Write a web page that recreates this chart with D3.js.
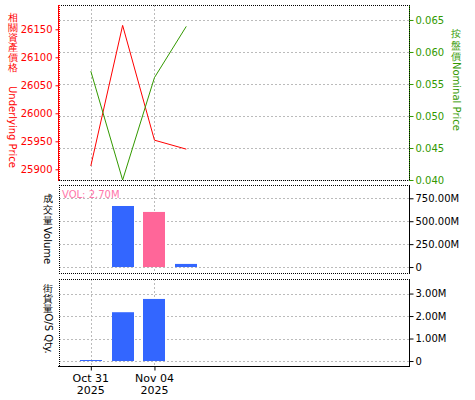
<!DOCTYPE html>
<html><head><meta charset="utf-8">
<script src="https://cdn.jsdelivr.net/npm/d3@7"></script>
<style>
html,body{margin:0;padding:0;background:#fff;}
text{font-family:"DejaVu Sans",sans-serif;}
</style></head>
<body><svg id="c" width="475" height="400"></svg>
<script>
// ---- data ----
const dates = ["2025-10-31","2025-11-03","2025-11-04","2025-11-05"];
const tickIdx = [0, 2];
const tickLabels = [["Oct 31","2025"],["Nov 04","2025"]];
const underlying = [25906, 26157, 25952, 25936];
const nominal = [0.057, 0.040, 0.056, 0.064];
const volume = [0, 666e6, 601e6, 34e6];
const volColors = ["#3366ff","#3366ff","#ff6699","#3366ff"];
const osQty = [0.045e6, 2.17e6, 2.76e6, 0];
const leftTicks = [25900, 25950, 26000, 26050, 26100, 26150];
const rightTicks = [0.040, 0.045, 0.050, 0.055, 0.060, 0.065];
const volTicks = [0, 250e6, 500e6, 750e6];
const osTicks = [0, 1e6, 2e6, 3e6];
const volLabel = "VOL: 2.70M";

const RED = "#ff0000", GREEN = "#339900", GRID = "#bbbbbb";
const svg = d3.select("#c");
const L = 59, R = 409;
const x = d3.scaleLinear().domain([-1, 10]).range([L, R]);
const P1 = {t:5, b:180}, P2 = {t:185, b:273}, P3 = {t:279, b:366};
const yL = d3.scaleLinear().domain([25880.9, 26193.4]).range([P1.b, P1.t]);
const yR = d3.scaleLinear().domain([0.040, 0.06734]).range([P1.b, P1.t]);
const yV = d3.scaleLinear().domain([-65e6, 895e6]).range([P2.b, P2.t]);
const yO = d3.scaleLinear().domain([-0.2215e6, 3.647e6]).range([P3.b, P3.t]);

function hline(y, x1, x2, color, dash, w) {
  svg.append("line").attr("x1", x1).attr("x2", x2).attr("y1", y).attr("y2", y)
    .attr("stroke", color).attr("stroke-width", w||1).attr("stroke-dasharray", dash||null);
}
function vline(xx, y1, y2, color, dash, w) {
  svg.append("line").attr("x1", xx).attr("x2", xx).attr("y1", y1).attr("y2", y2)
    .attr("stroke", color).attr("stroke-width", w||1).attr("stroke-dasharray", dash||null);
}
// grids
[[P1, rightTicks, yR],[P2, volTicks, yV],[P3, osTicks, yO]].forEach(([p, ticks, s]) => {
  ticks.forEach(t => hline(Math.round(s(t))+0.5, L, R, GRID, "2,2"));
  tickIdx.forEach(i => vline(Math.round(x(i))+0.5, p.t, p.b, GRID, "2,2"));
});

// borders
hline(P1.t+0.5, L, R, "#000", "1,1"); hline(P1.b+0.5, L, R, "#000", "1,1");
hline(P2.t+0.5, L, R, "#000", "1,1"); hline(P2.b+0.5, L, R, "#000", "1,1");
vline(L+0.5, P2.t, P2.b, "#000", "1,1");
hline(P3.t+0.5, L, R, "#000", "1,1"); hline(P3.b+0.5, L-1, R+1, "#000");
vline(L+0.5, P3.t, P3.b, "#000", "1,1");

// axes top panel
const gL = svg.append("g").attr("transform", `translate(${L-0.5},0)`)
  .call(d3.axisLeft(yL).tickValues(leftTicks).tickFormat(d3.format("d")).tickSize(3).tickPadding(3));
gL.select(".domain").remove();
gL.selectAll("line").attr("stroke", RED);
gL.selectAll("text").attr("fill", RED).attr("font-size", 10).attr("font-family", "DejaVu Sans");
vline(L-0.5, P1.t, P1.b+1, RED, null, 1);
vline(L+0.5, P1.t, P1.b+1, RED, "1,1", 1);

const gR = svg.append("g").attr("transform", `translate(${R+0.5},0)`)
  .call(d3.axisRight(yR).tickValues(rightTicks).tickFormat(d3.format(".3f")).tickSize(4).tickPadding(2));
gR.select(".domain").remove();
gR.selectAll("line").attr("stroke", GREEN);
gR.selectAll("text").attr("fill", GREEN).attr("font-size", 10).attr("font-family", "DejaVu Sans");
vline(R+0.5, P1.t, P1.b+1, GREEN, null, 1);
vline(R+0.5, P1.t, P1.b+1, "#000", "1,1", 1);

// volume / OS axes
const fmtM = d => d === 0 ? "0" : d3.format(".2f")(d/1e6) + "M";
[[yV, volTicks, P2],[yO, osTicks, P3]].forEach(([s, ticks, p]) => {
  const g = svg.append("g").attr("transform", `translate(${R+0.5},0)`)
    .call(d3.axisRight(s).tickValues(ticks).tickFormat(fmtM).tickSize(4).tickPadding(2));
  g.select(".domain").remove();
  g.selectAll("line").attr("stroke", "#000");
  g.selectAll("text").attr("fill", "#000").attr("font-size", 10).attr("font-family", "DejaVu Sans");
  vline(R+0.5, p.t, p.b+1, "#000");
});

// lines
const idx = dates.map((d, i) => i);
svg.append("path").datum(idx)
  .attr("d", d3.line().x(i => x(i)).y(i => yL(underlying[i])))
  .attr("fill", "none").attr("stroke", RED).attr("stroke-width", 1);
svg.append("path").datum(idx)
  .attr("d", d3.line().x(i => x(i)).y(i => yR(nominal[i])))
  .attr("fill", "none").attr("stroke", GREEN).attr("stroke-width", 1);

// bars
const bw = 22;
svg.append("g").selectAll("rect").data(idx.filter(i => volume[i] > 0)).join("rect")
  .attr("x", i => Math.round(x(i) - bw/2)).attr("width", bw)
  .attr("y", i => yV(volume[i])).attr("height", i => yV(0) - yV(volume[i]))
  .attr("fill", i => volColors[i]);
svg.append("g").selectAll("rect").data(idx.filter(i => osQty[i] > 0)).join("rect")
  .attr("x", i => Math.round(x(i) - bw/2)).attr("width", bw)
  .attr("y", i => yO(osQty[i])).attr("height", i => Math.max(1, yO(0) - yO(osQty[i])))
  .attr("fill", "#3366ff");

svg.append("text").attr("x", 62).attr("y", 198).attr("font-size", 10)
  .attr("fill", "#ff77aa").text(volLabel);

// x axis
const gx = svg.append("g").attr("transform", `translate(0,${P3.b+0.5})`)
  .call(d3.axisBottom(x).tickValues(tickIdx).tickFormat("").tickSize(4));
gx.select(".domain").remove();
gx.selectAll("line").attr("stroke", "#000");
tickIdx.forEach((t, k) => {
  const tx = svg.append("text").attr("x", x(t)).attr("text-anchor", "middle")
    .attr("font-size", 11).attr("fill", "#000");
  tx.append("tspan").attr("x", x(t)).attr("y", 382).text(tickLabels[k][0]);
  tx.append("tspan").attr("x", x(t)).attr("y", 394).text(tickLabels[k][1]);
});

// vertical titles: upright CJK characters stacked, then rotated Latin text
function vtitle(cx, y0, cjk, latin, color, step, latinStart) {
  const g = svg.append("g").attr("fill", color);
  Array.from(cjk).forEach((ch, i) => {
    g.append("text").attr("x", cx).attr("y", y0 + i * step + 8.5)
      .attr("text-anchor", "middle").attr("font-size", 10)
      .attr("font-family", "'Noto Sans CJK TC','Noto Sans CJK SC',sans-serif")
      .text(ch);
  });
  g.append("text").attr("transform", `translate(${cx},${latinStart}) rotate(90)`)
    .attr("dominant-baseline", "central").attr("font-size", 10)
    .text(latin);
}
vtitle(12.5, 12.5, "相關資產價格", "Underlying Price", RED, 10, 86);
vtitle(456, 28.5, "按盤價", "Nominal Price", GREEN, 11.5, 62);
vtitle(47.5, 193.5, "成交量", "Volume", "#000", 11, 227);
vtitle(48, 283, "街貨量", "O/S Qty.", "#000", 10, 313.5);
</script></body></html>
